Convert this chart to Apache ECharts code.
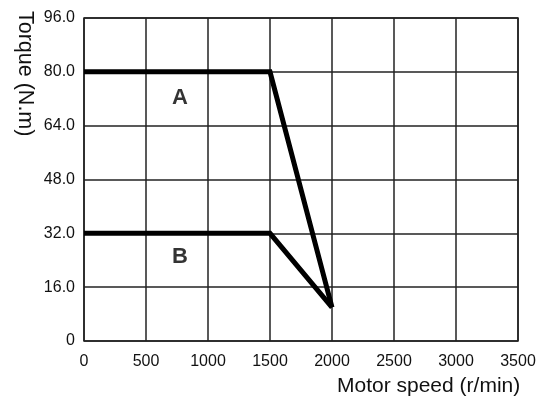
<!DOCTYPE html>
<html>
<head>
<meta charset="utf-8">
<script src="https://cdn.jsdelivr.net/npm/echarts@6/dist/echarts.min.js"></script>
<style>
html,body{margin:0;padding:0;background:#fff;}
#chart{width:544px;height:405px;}
</style>
</head>
<body>
<div id="chart"></div>
<script>
// Torque-speed envelope for two drive ratings
const speedA = [0, 1500, 2000];
const torqueA = [80, 80, 10];
const speedB = [0, 1500, 2000];
const torqueB = [32, 32, 10];
const curveLabels = ['A', 'B'];
const labelPos = [[774, 72.2], [774, 25]];
const yTicks = [0, 16, 32, 48, 64, 80, 96];
const xTicks = [0, 500, 1000, 1500, 2000, 2500, 3000, 3500];

const font = 'Liberation Sans, Arial, sans-serif';
const lineStyle = { color: '#000', width: 5, join: 'miter' };

const chart = echarts.init(document.getElementById('chart'));
chart.setOption({
  animation: false,
  backgroundColor: '#fff',
  grid: { left: 84, right: 26, top: 18, bottom: 64, show: true, borderColor: '#222', borderWidth: 1.5 },
  xAxis: {
    type: 'value', min: xTicks[0], max: xTicks[xTicks.length - 1], interval: 500,
    axisLine: { show: false }, axisTick: { show: false },
    splitLine: { show: true, lineStyle: { color: '#222', width: 1.5 } },
    axisLabel: { color: '#111', fontFamily: font, fontSize: 16, margin: 13,
                 showMaxLabel: true, showMinLabel: true, formatter: v => String(v) }
  },
  yAxis: {
    type: 'value', min: yTicks[0], max: yTicks[yTicks.length - 1], interval: 16,
    axisLine: { show: false }, axisTick: { show: false },
    splitLine: { show: true, lineStyle: { color: '#222', width: 1.5 } },
    axisLabel: {
      color: '#111', fontFamily: font, fontSize: 16, margin: 9,
      formatter: v => v === 0 ? '0' : v.toFixed(1)
    }
  },
  graphic: [
    { type: 'text', left: 337, top: 376,
      style: { text: 'Motor speed (r/min)', font: '21px ' + font, fill: '#111' } },
    { type: 'text', x: 14, y: 11, rotation: -Math.PI / 2, originX: 0, originY: 0,
      style: { text: 'Torque (N.m)', font: '21.5px ' + font, fill: '#111', textVerticalAlign: 'bottom' } }
  ],
  series: [
    { type: 'line', data: speedA.map((s, i) => [s, torqueA[i]]), symbol: 'none', lineStyle: lineStyle, z: 5 },
    { type: 'line', data: speedB.map((s, i) => [s, torqueB[i]]), symbol: 'none', lineStyle: lineStyle, z: 5 },
    { type: 'scatter', symbolSize: 0,
      data: labelPos.map((p, i) => ({ value: p, name: curveLabels[i] })),
      label: { show: true, position: 'inside', formatter: p => p.name,
               fontFamily: font, fontWeight: 'bold', fontSize: 22, color: '#000' } }
  ]
});
</script>
</body>
</html>
